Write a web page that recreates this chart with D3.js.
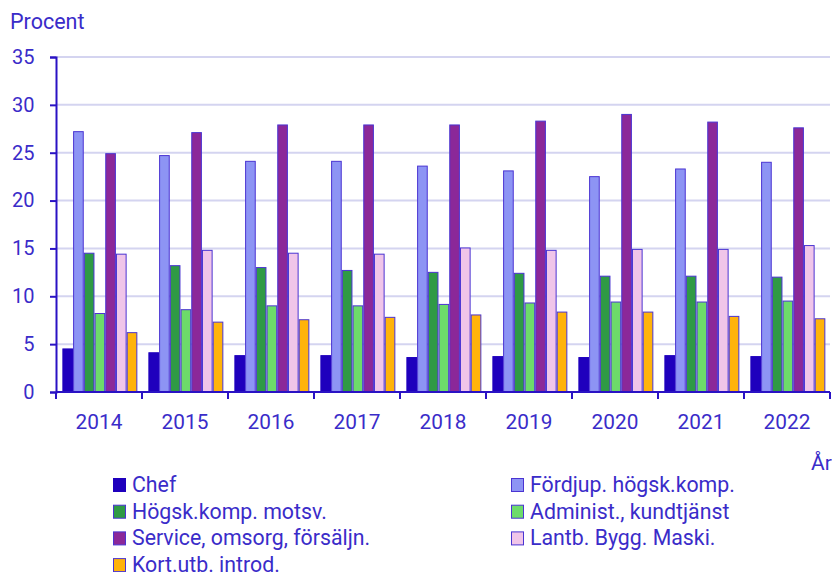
<!DOCTYPE html>
<html>
  <head>
    <meta charset="utf-8">
    <script src="https://d3js.org/d3.v7.min.js"></script>
    <title>Procent per yrkesgrupp</title>
    <style>
      body { margin: 0; background: #fff; }
      svg text { font-family: Roboto, sans-serif; fill: #3a2cc9; }
      .tick text { font-size: 20px; }
      .grid line { stroke: #d4d4f0; stroke-width: 2; }
      .axis path, .axis line { stroke: #2a12c4; stroke-width: 2; }
      .legend text { font-size: 21.3px; }
    </style>
  </head>
  <body>
    <svg width="832" height="572"></svg>
    <script>
      // data
      const years = ['2014', '2015', '2016', '2017', '2018', '2019', '2020', '2021', '2022'];
      const series = ['Chef', 'Fördjup. högsk.komp.', 'Högsk.komp. motsv.', 'Administ., kundtjänst',
                      'Service, omsorg, försäljn.', 'Lantb. Bygg. Maski.', 'Kort.utb. introd.'];
      const chef      = [4.5, 4.1, 3.8, 3.8, 3.6, 3.7, 3.6, 3.8, 3.7];
      const fordjup   = [27.2, 24.7, 24.1, 24.1, 23.6, 23.1, 22.5, 23.3, 24.0];
      const hogsk     = [14.5, 13.2, 13.0, 12.7, 12.5, 12.4, 12.1, 12.1, 12.0];
      const administ  = [8.2, 8.6, 9.0, 9.0, 9.15, 9.3, 9.4, 9.4, 9.5];
      const service   = [24.9, 27.1, 27.9, 27.9, 27.9, 28.3, 29.0, 28.2, 27.6];
      const lantb     = [14.4, 14.8, 14.5, 14.4, 15.05, 14.8, 14.9, 14.9, 15.3];
      const kort      = [6.2, 7.3, 7.55, 7.8, 8.05, 8.35, 8.35, 7.9, 7.65];
      const yTicks    = [0, 5, 10, 15, 20, 25, 30, 35];

      const values = [chef, fordjup, hogsk, administ, service, lantb, kort];
      const colors = ['#1f00bd', '#8d94f4', '#2f9a45', '#6ddb6a', '#8b2899', '#f0c5e9', '#ffb30a'];

      const svg = d3.select('svg');
      const plotLeft = 56, plotRight = 830, plotTop = 57, plotBottom = 392;

      const x0 = d3.scaleBand().domain(years).range([plotLeft, plotRight]);
      const bw = x0.bandwidth();
      const x1 = d3.scaleBand().domain(series)
        .range([bw * 0.08, bw * 0.94])
        .paddingInner(0.1);
      const y = d3.scaleLinear().domain([0, 35]).range([plotBottom, plotTop]);
      const color = d3.scaleOrdinal().domain(series).range(colors);

      // gridlines
      svg.append('g').attr('class', 'grid')
        .selectAll('line').data(yTicks.filter(d => d > 0))
        .enter().append('line')
          .attr('x1', plotLeft).attr('x2', plotRight)
          .attr('y1', d => y(d)).attr('y2', d => y(d));

      // bars
      const rows = years.map((yr, i) => ({ year: yr, vals: series.map((s, j) => ({ key: s, value: values[j][i] })) }));
      svg.append('g').selectAll('g').data(rows)
        .enter().append('g')
          .attr('transform', d => `translate(${x0(d.year)},0)`)
        .selectAll('rect').data(d => d.vals)
        .enter().append('rect')
          .attr('x', d => x1(d.key))
          .attr('width', x1.bandwidth())
          .attr('y', d => y(d.value))
          .attr('height', d => y(0) - y(d.value))
          .attr('fill', d => color(d.key))
          .attr('stroke', d => d.key === 'Chef' ? color(d.key) : '#4a34d2')
          .attr('stroke-width', 1);

      // y axis
      const yAxis = d3.axisLeft(y).tickValues(yTicks).tickSize(6).tickPadding(10);
      svg.append('g').attr('class', 'axis')
        .attr('transform', `translate(${plotLeft},0)`)
        .call(yAxis)
        .call(g => g.selectAll('.tick text').attr('x', -21.5).style('text-anchor', 'end'));

      // x axis: ticks on band edges, labels in the middle
      const xAxisG = svg.append('g').attr('class', 'axis')
        .attr('transform', `translate(0,${plotBottom})`);
      xAxisG.append('line').attr('x1', plotLeft).attr('x2', plotRight);
      xAxisG.selectAll('.edge').data(years.concat(['end']))
        .enter().append('line').attr('class', 'edge')
          .attr('x1', d => d === 'end' ? plotRight : x0(d))
          .attr('x2', d => d === 'end' ? plotRight : x0(d))
          .attr('y1', 0).attr('y2', 7);
      xAxisG.selectAll('text').data(years)
        .enter().append('text')
          .attr('x', d => x0(d) + bw / 2)
          .attr('y', 37)
          .style('text-anchor', 'middle')
          .style('font-size', '20.8px')
          .text(d => d);

      // axis titles
      svg.append('text').attr('x', 10).attr('y', 29).style('font-size', '21.5px').text('Procent');
      svg.append('text').attr('x', 811).attr('y', 470).style('font-size', '21px').text('År');

      // legend, two columns
      const legend = svg.append('g').attr('class', 'legend');
      const item = legend.selectAll('g').data(series)
        .enter().append('g')
          .attr('transform', (d, i) => `translate(${i % 2 ? 511 : 113},${478 + Math.floor(i / 2) * 26.7})`);
      item.append('rect')
        .attr('x', 0.5).attr('y', 0.5)
        .attr('width', 12).attr('height', 13)
        .attr('fill', d => color(d))
        .attr('stroke', d => d === 'Chef' ? color(d) : '#4a34d2');
      item.append('text')
        .attr('x', 19).attr('y', 14)
        .text(d => d);
    </script>
  </body>
</html>
